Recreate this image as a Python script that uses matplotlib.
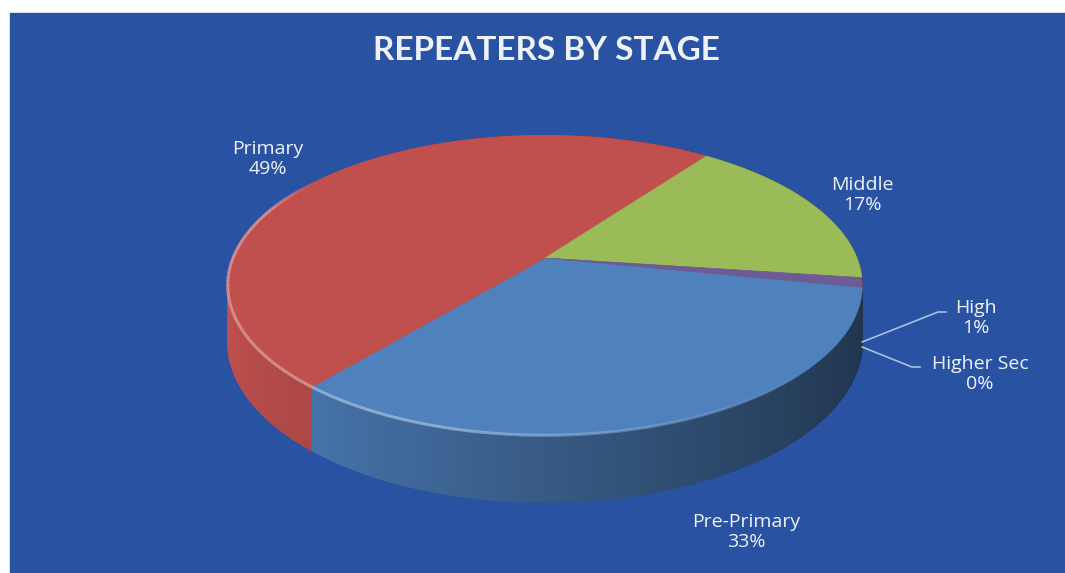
import numpy as np
import matplotlib.pyplot as plt
from matplotlib.patches import Polygon, Rectangle
from matplotlib.collections import PolyCollection, LineCollection
from matplotlib.colors import to_rgb

stages = ["Pre-Primary", "Primary", "Middle", "High", "Higher Sec"]
shares = [33, 49, 17, 1, 0]
slice_colors = ["#4F81BD", "#C0504D", "#9BBB59", "#6E5A94", "#4BACC6"]

title = "REPEATERS BY STAGE"
bg = "#2A52A3"
txt = "#EEF3FB"

# disc geometry in pixels
cx, cy = 545, 258
sx, sy = 312, 145
persp = 5.5
thick = 55
start = -11.2

plt.rcParams['font.family'] = ['Open Sans', 'DejaVu Sans']


def project(theta, drop=0.0):
    t = np.radians(theta)
    f = persp / (persp + np.sin(t))
    return cx + sx * np.cos(t) * f, cy - sy * np.sin(t) * f + drop * f


def shade(rgb, k):
    return tuple(np.clip(np.array(rgb) * k, 0, 1))


def lighten(rgb, k):
    return tuple(np.array(rgb) + (1 - np.array(rgb)) * k)


fig = plt.figure(figsize=(10.65, 5.73), dpi=100)
ax = fig.add_axes([0, 0, 1, 1])
ax.set_xlim(0, 1065)
ax.set_ylim(573, 0)
ax.axis("off")

ax.add_patch(Rectangle((10, 13), 1060, 570, color=bg, zorder=0))

frac = np.array(shares, dtype=float) / sum(shares)
cum = np.concatenate([[0], np.cumsum(frac)])
spans = [(start - 360 * cum[i + 1], start - 360 * cum[i]) for i in range(len(shares))]

# side wall, back to front
quads, qcols, keys = [], [], []
for (a0, a1), col in zip(spans, slice_colors):
    if a1 - a0 <= 0:
        continue
    n = max(2, int((a1 - a0) / 0.5))
    th = np.linspace(a0, a1, n + 1)
    rgb = to_rgb(col)
    for a, b in zip(th[:-1], th[1:]):
        xa, ya = project(a)
        xb, yb = project(b)
        xa2, ya2 = project(a, thick)
        xb2, yb2 = project(b, thick)
        m = np.radians((a + b) / 2)
        quads.append([(xa, ya), (xb, yb), (xb2, yb2), (xa2, ya2)])
        qcols.append(shade(rgb, 0.70 - 0.30 * np.cos(m)))
        keys.append(np.sin(m))
order = np.argsort(keys)[::-1]
ax.add_collection(PolyCollection([quads[i] for i in order],
                                 facecolors=[qcols[i] for i in order],
                                 edgecolors=[qcols[i] for i in order],
                                 linewidths=0.6, zorder=2))

# top face
for (a0, a1), col in zip(spans, slice_colors):
    if a1 - a0 <= 0:
        continue
    th = np.linspace(a0, a1, max(2, int((a1 - a0) / 0.5)) + 1)
    xs, ys = project(th)
    pts = [(cx, cy)] + list(zip(xs, ys))
    ax.add_patch(Polygon(pts, closed=True, facecolor=col, edgecolor=col,
                         linewidth=0.5, zorder=3))

# bright rim along the front edge
segs, scol = [], []
for (a0, a1), col in zip(spans, slice_colors):
    if a1 - a0 <= 0:
        continue
    th = np.linspace(a0, a1, max(2, int((a1 - a0) / 0.5)) + 1)
    xs, ys = project(th)
    light = lighten(to_rgb(col), 0.45)
    for i in range(len(th) - 1):
        m = (th[i] + th[i + 1]) / 2
        w = m if m > -270 else m + 360
        if w > 90:
            w -= 360
        if -215 < w < -40:
            if w < -200:
                al = (w + 215) / 15
            elif w > -110:
                al = (-40 - w) / 70
            else:
                al = 1.0
            segs.append([(xs[i], ys[i]), (xs[i + 1], ys[i + 1])])
            scol.append(light + (0.8 * al,))
ax.add_collection(LineCollection(segs, colors=scol, linewidths=2.2, zorder=4))

# labels
label_pos = [(746, 532), (268, 159), (862, 195), (976, 318), (980, 374)]
for name, val, (lx, ly) in zip(stages, shares, label_pos):
    ax.text(lx, ly, f"{name}\n{val}%", ha="center", va="center",
            color=txt, fontsize=14, linespacing=1.2, zorder=6)

# leader lines for the two thin slices
elbows = {3: [(938, 312), (946, 312)], 4: [(912, 367), (920, 367)]}
for i, pts in elbows.items():
    mid = (spans[i][0] + spans[i][1]) / 2
    px, py = project(mid, thick * 1.05)
    xs = [px] + [p[0] for p in pts]
    ys = [py] + [p[1] for p in pts]
    ax.plot(xs, ys, color="#A9C0E6", lw=1.2, zorder=5)

ax.text(546, 50, title, ha="center", va="center", color=txt,
        fontsize=24, fontweight="bold", family=['Lato', 'DejaVu Sans'], zorder=6)

fig.savefig("out.png", dpi=100, facecolor="white")
